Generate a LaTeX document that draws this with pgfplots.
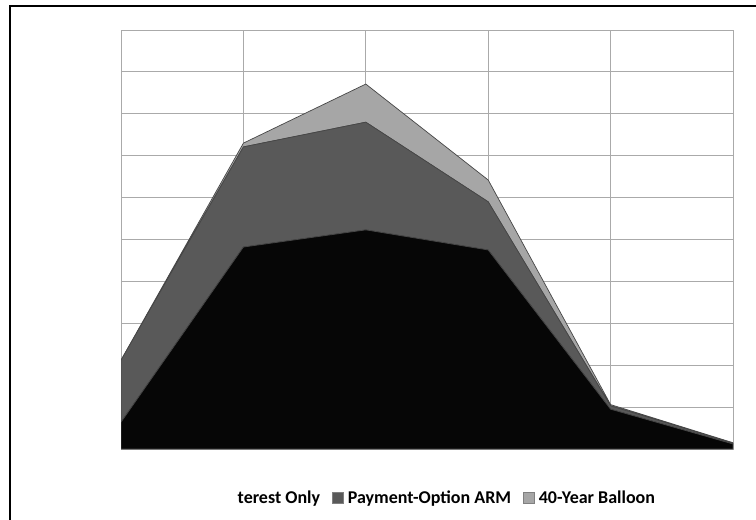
\documentclass[border=0pt]{standalone}
\usepackage{pgfplots}
\pgfplotsset{compat=1.18}
\usepackage{fontspec}
\setmainfont{Carlito}
\definecolor{cblack}{RGB}{6,6,6}
\definecolor{cdark}{RGB}{89,89,89}
\definecolor{clight}{RGB}{166,166,166}
\definecolor{cedge}{RGB}{70,70,70}
\definecolor{cgrid}{RGB}{170,170,170}
\begin{document}
\begin{tikzpicture}
\path[use as bounding box, fill=white] (0pt,0pt) rectangle (756pt,-520pt);
\draw[line width=2.6pt, black] (10pt,-540pt) -- (10pt,-6pt) -- (780pt,-6pt);
\begin{axis}[
  at={(121pt,-449pt)}, anchor=south west,
  width=612pt, height=419pt, scale only axis,
  xmin=0, xmax=5, ymin=0, ymax=10,
  xtick={0,1,2,3,4,5}, ytick={0,1,...,10},
  xticklabels={}, yticklabels={},
  major tick length=0pt,
  grid=major, grid style={cgrid, line width=1pt},
  axis line style={cgrid, line width=1pt},
  stack plots=y,
  legend columns=3,
  legend style={at={(0.53,-0.117)}, anchor=center, draw=none, fill=none,
    font=\fontsize{18}{21}\selectfont\bfseries, column sep=2pt,
    /tikz/every even column/.append style={column sep=10pt},
    /tikz/every odd column/.append style={column sep=2pt}},
  legend image code/.code={\draw[#1, draw=gray, line width=0.7pt] (0pt,-5.5pt) rectangle (11pt,5.5pt);},
]
\addplot[fill=cblack, draw=cedge, line width=0.7pt, legend image code/.code={}] coordinates {(0,0.64) (1,4.82) (2,5.23) (3,4.75) (4,0.95) (5,0.12)} \closedcycle;
\addlegendentry{terest Only}
\addplot[fill=cdark, draw=cedge, line width=0.7pt] coordinates {(0,1.48) (1,2.39) (2,2.57) (3,1.15) (4,0.08) (5,0.02)} \closedcycle;
\addlegendentry{Payment-Option ARM}
\addplot[fill=clight, draw=cedge, line width=0.7pt] coordinates {(0,0) (1,0.09) (2,0.91) (3,0.52) (4,0.03) (5,0.01)} \closedcycle;
\addlegendentry{40-Year Balloon}
\end{axis}
\end{tikzpicture}
\end{document}
